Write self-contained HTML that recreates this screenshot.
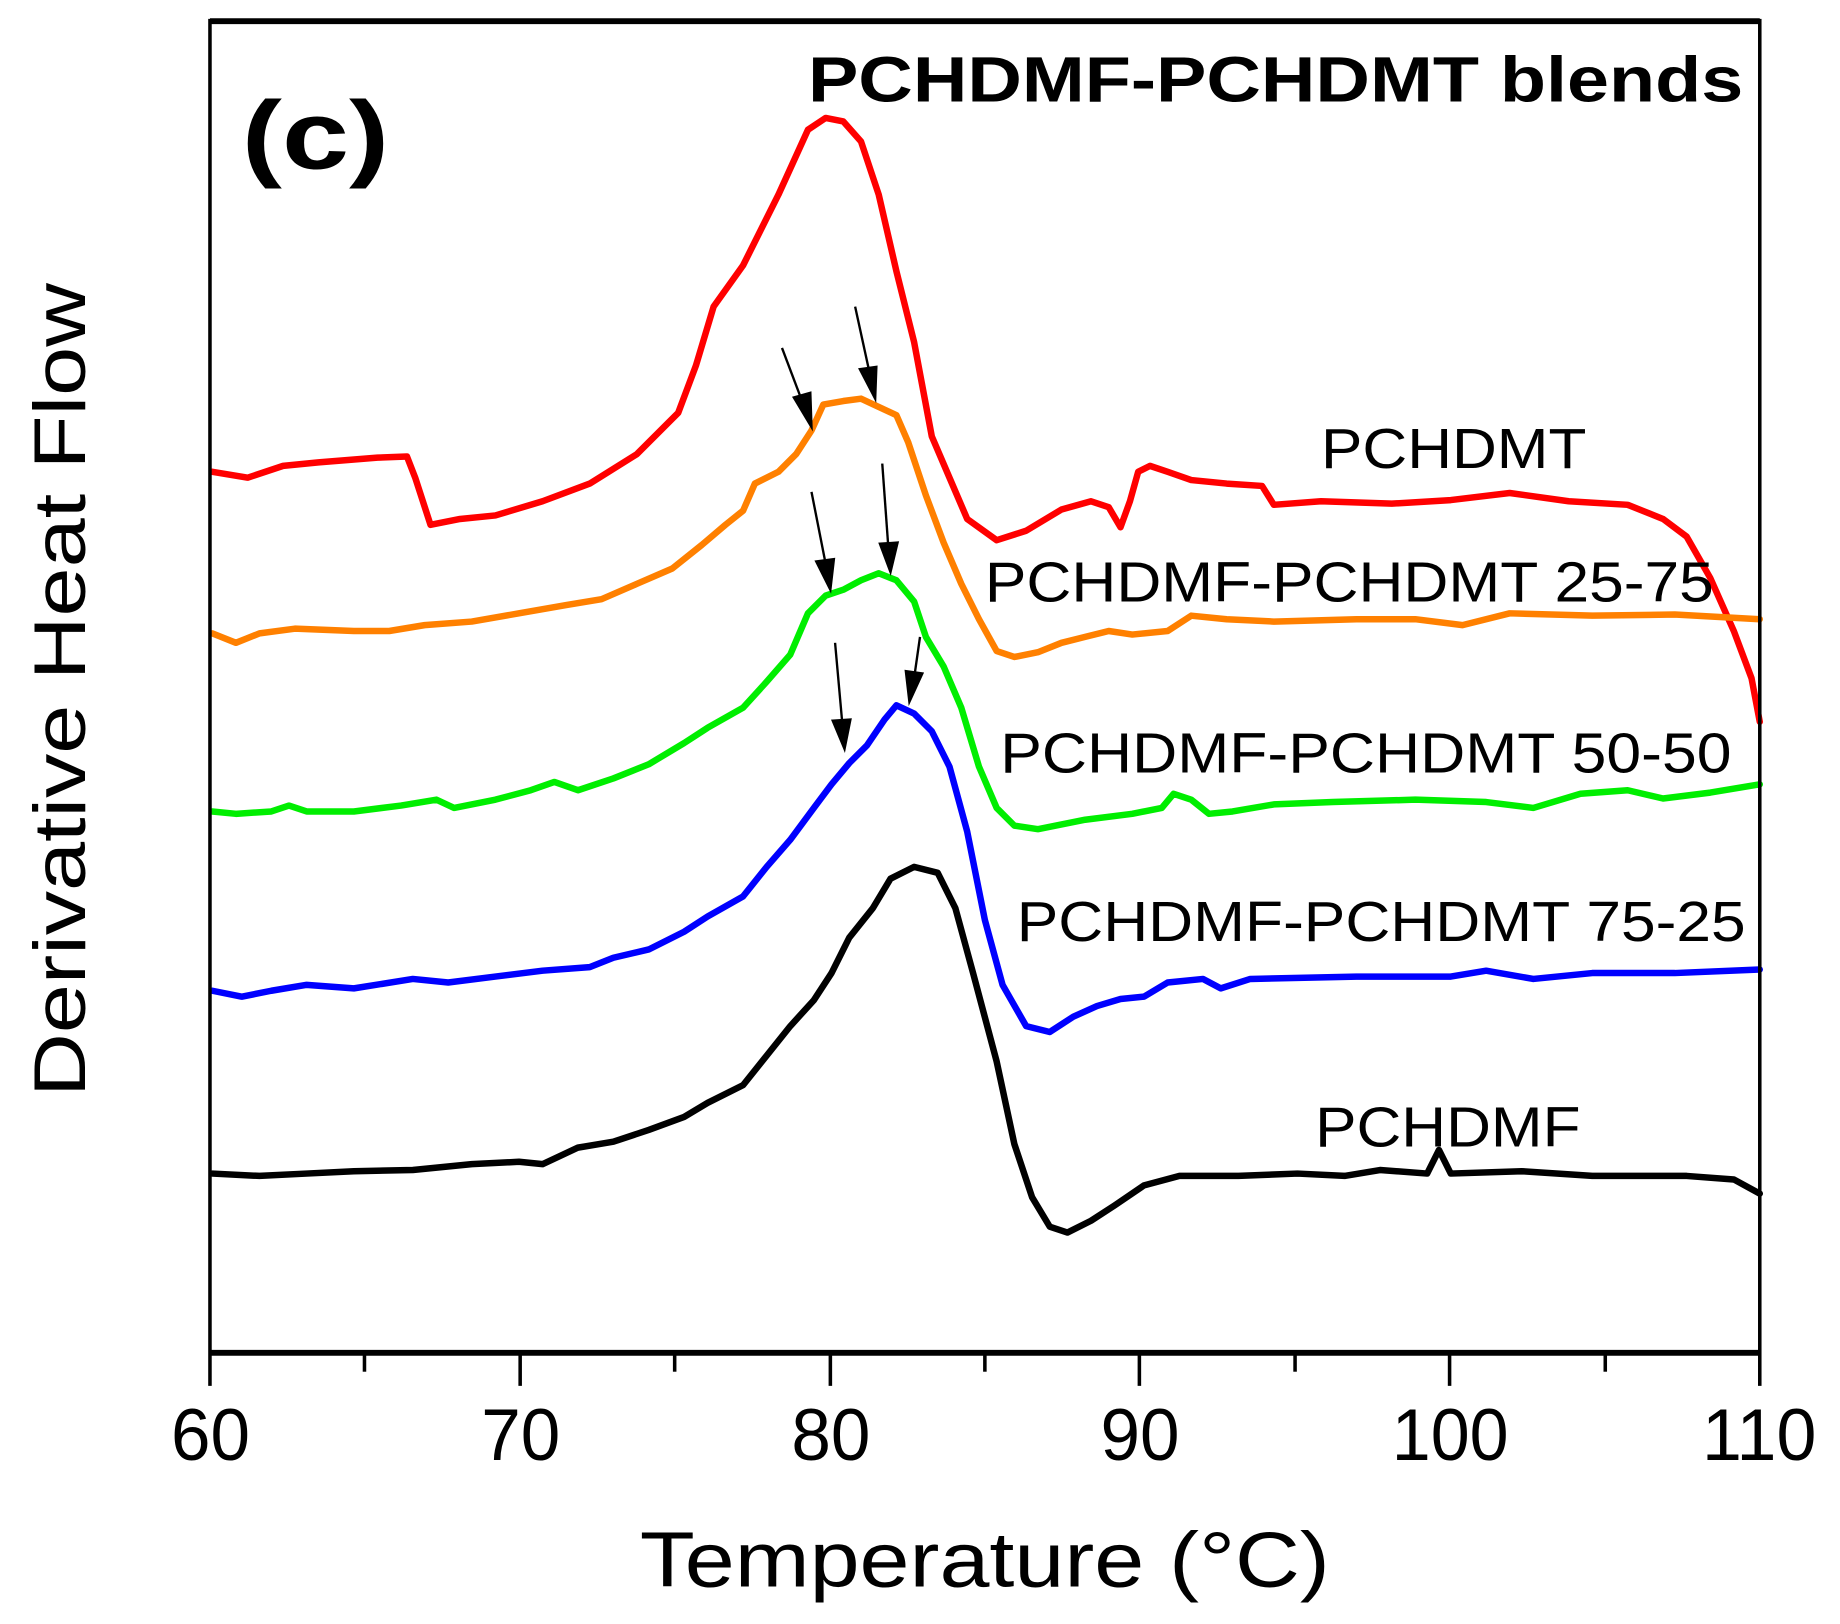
<!DOCTYPE html>
<html><head><meta charset="utf-8"><style>html,body{margin:0;padding:0;background:#fff}svg{display:block}</style></head>
<body>
<svg width="1840" height="1624" viewBox="0 0 1560 1376.9" xmlns="http://www.w3.org/2000/svg" font-family="'Liberation Sans', sans-serif">
<rect width="1560" height="1377" fill="#fff"/>
<g fill="none" stroke-linejoin="round" stroke-linecap="round" stroke-width="5.5">
<polyline stroke="#ff0000" points="180,400 210,405 240,395 270,392 320,388 345,387 352,405 365,445 390,440 420,437 460,425 500,410 540,385 575,350 590,310 605,260 630,225 660,165 685,110 700,100 715,103 730,120 745,165 760,230 775,290 790,370 805,405 820,440 845,458 870,450 900,432 925,425 940,430 950,447 958,425 965,400 975,395 990,400 1010,407 1040,410 1070,412 1080,428 1120,425 1180,427 1230,424 1280,418 1330,425 1380,428 1410,440 1430,455 1450,490 1470,535 1485,575 1492,612"/>
<polyline stroke="#ff8000" points="180,537 200,545 220,537 250,533 300,535 330,535 360,530 400,527 440,520 480,513 510,508 540,495 570,482 595,462 615,445 630,433 640,410 660,400 675,385 688,365 698,343 715,340 730,338 745,345 760,352 770,375 785,420 800,460 815,495 830,525 845,552 860,557 880,553 900,545 920,540 940,535 960,538 990,535 1010,522 1040,525 1080,527 1150,525 1200,525 1240,530 1280,520 1350,522 1420,521 1492,525"/>
<polyline stroke="#00ee00" points="180,688 200,690 230,688 245,683 260,688 300,688 340,683 370,678 385,685 420,678 450,670 470,663 490,670 520,660 550,648 580,630 600,617 630,600 650,578 670,555 685,520 700,505 715,500 730,492 745,486 760,492 775,510 785,540 800,565 815,600 830,650 845,685 860,700 880,703 920,695 960,690 985,685 995,673 1010,678 1025,690 1045,688 1080,682 1130,680 1200,678 1260,680 1300,685 1340,673 1380,670 1410,677 1450,672 1492,665"/>
<polyline stroke="#0000ff" points="180,840 205,845 230,840 260,835 300,838 350,830 380,833 420,828 460,823 500,820 520,812 550,805 580,790 600,777 630,760 650,735 670,712 690,685 705,665 720,647 735,632 750,610 760,598 775,605 790,620 805,650 820,705 835,780 850,835 870,870 890,875 910,862 930,853 950,847 970,845 990,833 1020,830 1035,838 1060,830 1150,828 1230,828 1260,823 1300,830 1350,825 1420,825 1492,822"/>
<polyline stroke="#000" points="180,995 220,997 260,995 300,993 350,992 400,987 440,985 460,987 490,973 520,968 550,958 580,947 600,935 630,920 650,895 670,870 690,848 705,825 720,795 740,770 755,745 775,735 795,740 810,770 825,825 845,900 860,970 875,1015 890,1040 905,1045 925,1035 945,1022 970,1005 1000,997 1050,997 1100,995 1140,997 1170,992 1210,995 1220,975 1230,995 1290,993 1350,997 1430,997 1470,1000 1492,1012"/>
</g>
<g stroke="#000" stroke-width="2" fill="#000">
<line x1="663" y1="295" x2="680" y2="340"/><polygon points="688,362 673,337 687,333"/>
<line x1="725" y1="260" x2="737" y2="315"/><polygon points="742,338 729,313 743,311"/>
<line x1="688" y1="417" x2="700" y2="478"/><polygon points="704,500 692,476 707,474"/>
<line x1="748" y1="393" x2="753" y2="462"/><polygon points="755,485 746,461 761,460"/>
<line x1="708" y1="545" x2="714" y2="612"/><polygon points="716,635 706,611 721,610"/>
<line x1="780" y1="540" x2="775" y2="575"/><polygon points="771,595 768,569 782,571"/>
</g>
<g stroke="#000" fill="none">
<line x1="178" y1="18" x2="1492" y2="18" stroke-width="5"/>
<line x1="178" y1="1147" x2="1492" y2="1147" stroke-width="5"/>
<line x1="178" y1="16" x2="178" y2="1175" stroke-width="3"/>
<line x1="1492" y1="16" x2="1492" y2="1175" stroke-width="3"/>
<g stroke-width="3">
<line x1="441" y1="1147" x2="441" y2="1175"/><line x1="704" y1="1147" x2="704" y2="1175"/><line x1="966" y1="1147" x2="966" y2="1175"/><line x1="1229" y1="1147" x2="1229" y2="1175"/>
<line x1="309" y1="1147" x2="309" y2="1163"/><line x1="572" y1="1147" x2="572" y2="1163"/><line x1="835" y1="1147" x2="835" y2="1163"/><line x1="1098" y1="1147" x2="1098" y2="1163"/><line x1="1361" y1="1147" x2="1361" y2="1163"/>
</g></g>
<g font-size="62" fill="#000">
<text x="145" y="1238" textLength="67" lengthAdjust="spacingAndGlyphs">60</text>
<text x="408" y="1238" textLength="67" lengthAdjust="spacingAndGlyphs">70</text>
<text x="671" y="1238" textLength="67" lengthAdjust="spacingAndGlyphs">80</text>
<text x="933" y="1238" textLength="67" lengthAdjust="spacingAndGlyphs">90</text>
<text x="1180" y="1238" textLength="99" lengthAdjust="spacingAndGlyphs">100</text>
<text x="1443" y="1238" textLength="97" lengthAdjust="spacingAndGlyphs">110</text>
</g>
<text x="835" y="1345" font-size="66" text-anchor="middle" textLength="585" lengthAdjust="spacingAndGlyphs">Temperature (°C)</text>
<text transform="translate(72,585) rotate(-90)" font-size="62" text-anchor="middle" textLength="690" lengthAdjust="spacingAndGlyphs">Derivative Heat Flow</text>
<text x="205" y="143" font-size="82" font-weight="bold" textLength="125" lengthAdjust="spacingAndGlyphs">(c)</text>
<text x="685" y="86" font-size="54" font-weight="bold" textLength="793" lengthAdjust="spacingAndGlyphs">PCHDMF-PCHDMT blends</text>
<g font-size="48">
<text x="1120" y="397" textLength="225" lengthAdjust="spacingAndGlyphs">PCHDMT</text>
<text x="835" y="510" textLength="618" lengthAdjust="spacingAndGlyphs">PCHDMF-PCHDMT 25-75</text>
<text x="848" y="655" textLength="620" lengthAdjust="spacingAndGlyphs">PCHDMF-PCHDMT 50-50</text>
<text x="862" y="798" textLength="618" lengthAdjust="spacingAndGlyphs">PCHDMF-PCHDMT 75-25</text>
<text x="1115" y="972" textLength="225" lengthAdjust="spacingAndGlyphs">PCHDMF</text>
</g>
</svg>
</body></html>
